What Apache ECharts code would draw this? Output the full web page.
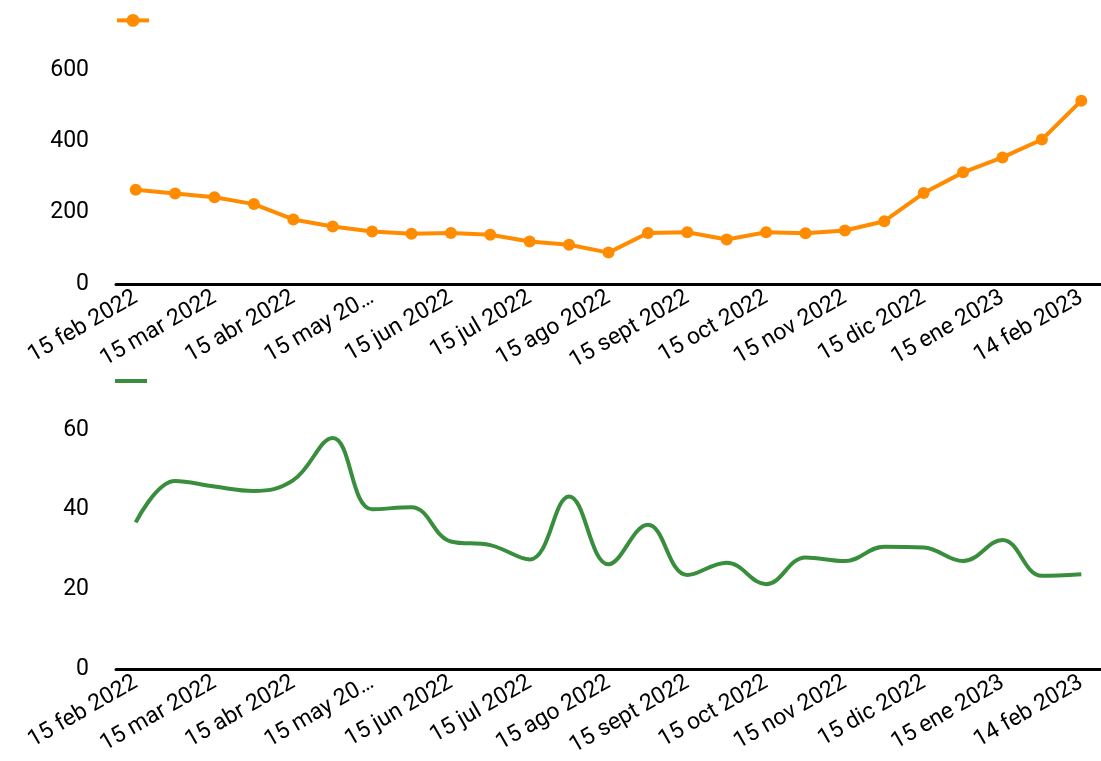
<!DOCTYPE html>
<html>
<head>
<meta charset="utf-8">
<script src="https://cdn.jsdelivr.net/npm/echarts@6/dist/echarts.min.js"></script>
<style>
html,body{margin:0;padding:0;background:#fff;}
#c{width:1101px;height:761px;}
</style>
</head>
<body>
<div id="c"></div>
<script>
// 25 semi-monthly categories
const categories = [
  "15 feb 2022","1 mar 2022","15 mar 2022","1 abr 2022","15 abr 2022","1 may 2022",
  "15 may 2022","1 jun 2022","15 jun 2022","1 jul 2022","15 jul 2022","1 ago 2022",
  "15 ago 2022","1 sept 2022","15 sept 2022","1 oct 2022","15 oct 2022","1 nov 2022",
  "15 nov 2022","1 dic 2022","15 dic 2022","1 ene 2023","15 ene 2023","31 ene 2023",
  "14 feb 2023"
];
// Tick labels shown (every other category)
const tickLabels = [
  "15 feb 2022","15 mar 2022","15 abr 2022","15 may 20…","15 jun 2022","15 jul 2022",
  "15 ago 2022","15 sept 2022","15 oct 2022","15 nov 2022","15 dic 2022","15 ene 2023",
  "14 feb 2023"
];
const topValues = [
  264, 254, 243, 224, 181, 161, 147, 141, 143, 138, 119, 110, 88,
  143, 145, 125, 145, 142, 150, 176, 255, 313, 355, 405, 514
];
const bottomValues = [
  36.8, 47.2, 45.8, 44.7, 47.4, 58.0, 40.1, 40.6, 32.0, 31.1, 27.5, 43.3, 26.3,
  36.2, 23.6, 26.7, 21.3, 28.0, 27.1, 30.7, 30.5, 27.1, 32.4, 23.4, 23.8
];
const topTicks = [0, 200, 400, 600];
const bottomTicks = [0, 20, 40, 60];

const ORANGE = '#FF8C00';
const GREEN = '#388E3C';
const FONT = 'Roboto';
const FS = 23;

function xAxis(gridIndex) {
  return {
    type: 'category',
    gridIndex: gridIndex,
    data: categories,
    boundaryGap: true,
    axisLine: { show: true, lineStyle: { color: '#000', width: 3 } },
    axisTick: { show: false },
    axisLabel: {
      interval: 0,
      rotate: 30,
      margin: 12,
      color: '#000',
      fontFamily: FONT,
      fontSize: FS,
      formatter: function (v, idx) { return idx % 2 === 0 ? tickLabels[idx / 2] : ''; }
    },
    splitLine: { show: false }
  };
}
function yAxis(gridIndex, ticks) {
  return {
    type: 'value',
    gridIndex: gridIndex,
    min: ticks[0],
    max: ticks[ticks.length - 1],
    interval: ticks[1] - ticks[0],
    axisLine: { show: false },
    axisTick: { show: false },
    splitLine: { show: false },
    axisLabel: { color: '#000', fontFamily: FONT, fontSize: FS, margin: 27 }
  };
}

const chart = echarts.init(document.getElementById('c'), null, { renderer: 'canvas' });
chart.setOption({
  animation: false,
  backgroundColor: '#fff',
  legend: [
    { left: 115, top: 14, padding: 0, itemWidth: 32, itemHeight: 16, data: [' '],
      textStyle: { fontSize: 12 }, selectedMode: false, lineStyle: { width: 4 } },
    { left: 115, top: 375, padding: 0, itemWidth: 32, itemHeight: 4,
      data: [{ name: '  ', icon: 'rect' }],
      textStyle: { fontSize: 12 }, selectedMode: false }
  ],
  grid: [
    { left: 116, width: 987, top: 70, height: 214 },
    { left: 116, width: 987, top: 430, height: 239 }
  ],
  xAxis: [xAxis(0), xAxis(1)],
  yAxis: [yAxis(0, topTicks), yAxis(1, bottomTicks)],
  series: [
    {
      name: ' ',
      type: 'line',
      xAxisIndex: 0, yAxisIndex: 0,
      data: topValues,
      symbol: 'circle',
      symbolSize: 12,
      itemStyle: { color: ORANGE },
      lineStyle: { color: ORANGE, width: 4 }
    },
    {
      name: '  ',
      type: 'line',
      xAxisIndex: 1, yAxisIndex: 1,
      data: bottomValues,
      symbol: 'none',
      smooth: 0.4,
      itemStyle: { color: GREEN },
      lineStyle: { color: GREEN, width: 4 }
    }
  ]
});
</script>
</body>
</html>
